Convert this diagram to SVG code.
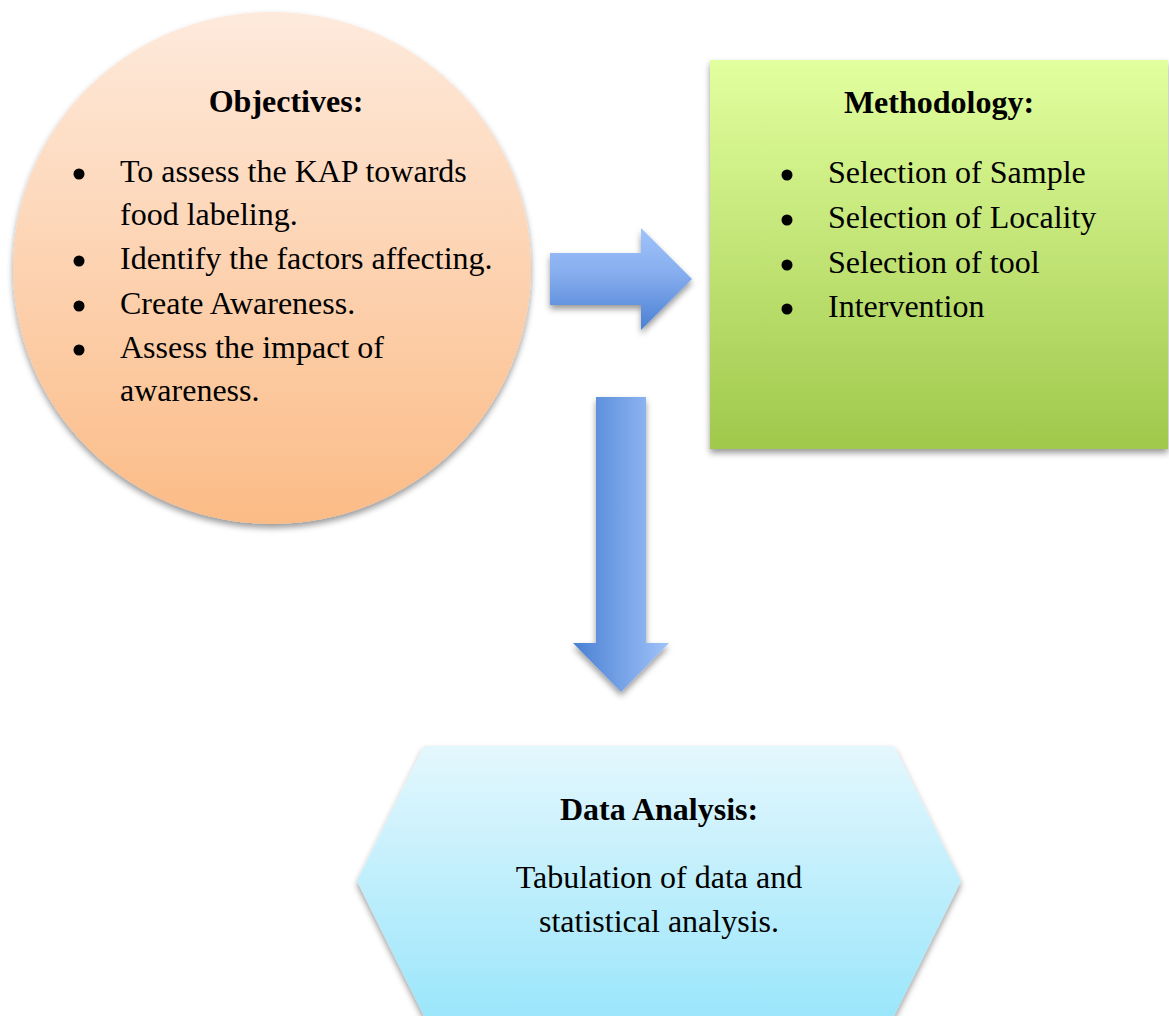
<svg xmlns="http://www.w3.org/2000/svg" width="1169" height="1016" viewBox="0 0 1169 1016">
<style>
  .t { font-family: "Liberation Serif", "Times New Roman", serif; font-size: 32px; fill: #000; }
  .b { font-weight: bold; }
  .c { text-anchor: middle; }
  .dot { fill: #000; }
</style>
<defs>
  <linearGradient id="gOrange" x1="0" y1="0" x2="0" y2="1">
    <stop offset="0" stop-color="#feeadc"/>
    <stop offset="1" stop-color="#fbbb86"/>
  </linearGradient>
  <linearGradient id="gGreen" x1="0" y1="0" x2="0" y2="1">
    <stop offset="0" stop-color="#e2ff9f"/>
    <stop offset="1" stop-color="#a0c84b"/>
  </linearGradient>
  <linearGradient id="gCyan" x1="0" y1="0" x2="0" y2="1">
    <stop offset="0" stop-color="#e4f7fd"/>
    <stop offset="1" stop-color="#9be6fb"/>
  </linearGradient>
  <linearGradient id="gBlueV" x1="0" y1="0" x2="0" y2="1">
    <stop offset="0" stop-color="#a0c3fa"/>
    <stop offset="0.45" stop-color="#86adee"/>
    <stop offset="1" stop-color="#4a80d2"/>
  </linearGradient>
  <linearGradient id="gBlueH" x1="0" y1="0" x2="1" y2="0">
    <stop offset="0" stop-color="#4a80d2"/>
    <stop offset="1" stop-color="#a0c3fa"/>
  </linearGradient>
  <filter id="sh" x="-10%" y="-10%" width="120%" height="125%">
    <feDropShadow dx="0" dy="4" stdDeviation="3" flood-color="#000" flood-opacity="0.4"/>
  </filter>
</defs>

<g id="connectors">
  <path id="arrow-right" d="M550,253 L641,253 L641,228 L692,279 L641,330 L641,305 L550,305 Z" fill="url(#gBlueV)" filter="url(#sh)"/>
  <path id="arrow-down" d="M596,397 L646,397 L646,643 L669,643 L621,692 L573,643 L596,643 Z" fill="url(#gBlueH)" filter="url(#sh)"/>
</g>

<g id="objectives">
  <ellipse cx="272" cy="268" rx="259" ry="256" fill="url(#gOrange)" filter="url(#sh)"/>
  <text class="t b c" x="286" y="112">Objectives:</text>
  <circle class="dot" cx="79" cy="174" r="5.5"/>
  <circle class="dot" cx="79" cy="261" r="5.5"/>
  <circle class="dot" cx="79" cy="306" r="5.5"/>
  <circle class="dot" cx="79" cy="350" r="5.5"/>
  <text class="t" x="120" y="182">To assess the KAP towards</text>
  <text class="t" x="120" y="225">food labeling.</text>
  <text class="t" x="120" y="269">Identify the factors affecting.</text>
  <text class="t" x="120" y="314">Create Awareness.</text>
  <text class="t" x="120" y="358">Assess the impact of</text>
  <text class="t" x="120" y="401">awareness.</text>
</g>

<g id="methodology">
  <rect x="710" y="60" width="458" height="389" fill="url(#gGreen)" filter="url(#sh)"/>
  <text class="t b c" x="939" y="113">Methodology:</text>
  <circle class="dot" cx="787" cy="175" r="5.5"/>
  <circle class="dot" cx="787" cy="220" r="5.5"/>
  <circle class="dot" cx="787" cy="265" r="5.5"/>
  <circle class="dot" cx="787" cy="309" r="5.5"/>
  <text class="t" x="828" y="183">Selection of Sample</text>
  <text class="t" x="828" y="228">Selection of Locality</text>
  <text class="t" x="828" y="273">Selection of tool</text>
  <text class="t" x="828" y="317">Intervention</text>
</g>

<g id="data-analysis">
  <path d="M424,746 L894,746 L961,881 L894,1016 L424,1016 L357,881 Z" fill="url(#gCyan)" filter="url(#sh)"/>
  <text class="t b c" x="659" y="820">Data Analysis:</text>
  <text class="t c" x="659" y="888">Tabulation of data and</text>
  <text class="t c" x="659" y="932">statistical analysis.</text>
</g>
</svg>
